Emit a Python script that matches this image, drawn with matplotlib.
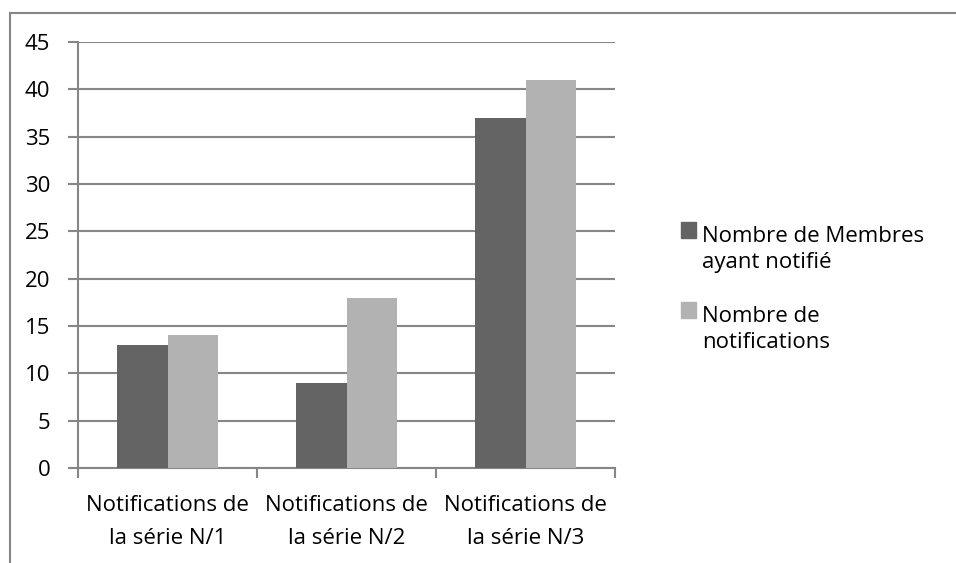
import numpy as np
import matplotlib.pyplot as plt
from matplotlib.lines import Line2D
from matplotlib.patches import Rectangle

categories = ["Notifications de\nla série N/1", "Notifications de\nla série N/2", "Notifications de\nla série N/3"]
membres = [13, 9, 37]
notifications = [14, 18, 41]
series_names = ["Nombre de Membres\nayant notifié", "Nombre de\nnotifications"]

dark = "#646464"
light = "#b2b2b2"
grey = "#868686"
fs = 16

plt.rcParams['font.family'] = ['Open Sans', 'DejaVu Sans']

fig = plt.figure(figsize=(9.56, 5.63), dpi=100)
W, H = 956, 563
ax = fig.add_axes([78/W, 1-468/H, (615-78)/W, (468-42)/H])

x = np.arange(len(categories))
w = 0.282
ax.bar(x - w/2, membres, w, color=dark, zorder=3)
ax.bar(x + w/2, notifications, w, color=light, zorder=3)

ax.set_xlim(-0.5, 2.5)
ax.set_ylim(0, 45)
ax.set_yticks(range(0, 46, 5))
ax.yaxis.grid(True, color=grey, linewidth=1.5, zorder=0)

ax.set_xticks([-0.5, 0.5, 1.5, 2.5])
ax.set_xticklabels([])
ax.set_xticks(x, minor=True)
ax.set_xticklabels(categories, minor=True, fontsize=fs, linespacing=1.76)
ax.tick_params(axis='x', which='minor', length=0, pad=19.5)
ax.tick_params(axis='x', which='major', length=7, width=1.5, color=grey, direction='out')
ax.tick_params(axis='y', length=7, width=1.5, color=grey, labelsize=fs, pad=13)

for s in ['top', 'right']:
    ax.spines[s].set_visible(False)
for s in ['left', 'bottom']:
    ax.spines[s].set_color(grey)
    ax.spines[s].set_linewidth(1.5)

# legend: square aligned with first line of each label
for col, name, top in [(dark, series_names[0], 222), (light, series_names[1], 302)]:
    fig.add_artist(Rectangle((681/W, 1-(top+16)/H), 15/W, 16/H, color=col,
                             transform=fig.transFigure))
    fig.text(702/W, 1-(top+46)/H, name, fontsize=fs, va='baseline', ha='left',
             linespacing=1.3)

fig.add_artist(Line2D([10/W, 1], [1-13/H, 1-13/H], color=grey, linewidth=1.5))
fig.add_artist(Line2D([10/W, 10/W], [0, 1-13/H], color=grey, linewidth=1.5))

fig.savefig("out.png", dpi=100)
